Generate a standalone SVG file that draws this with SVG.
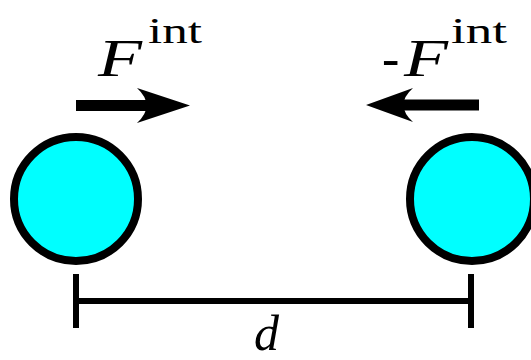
<svg xmlns="http://www.w3.org/2000/svg" width="531" height="360" viewBox="0 0 531 360">
<style>
.ball{fill:#00ffff;stroke:#000;stroke-width:8}
.ln{stroke:#000;stroke-width:6;fill:none}
.ar{fill:#000;stroke:none}
.mi{font-family:"Liberation Serif","Times New Roman",serif;font-style:italic;fill:#000}
.rm{font-family:"Liberation Serif","Times New Roman",serif;fill:#000}
</style>
<rect width="531" height="360" fill="#fff"/>
<g id="particle-left">
<circle class="ball" cx="76" cy="199" r="62"/>
</g>
<g id="particle-right">
<circle class="ball" cx="472" cy="199" r="62"/>
</g>
<g id="force-left">
<rect class="ar" x="76" y="100" width="76" height="11"/>
<path class="ar" d="M190,105.5 L137,88 Q156,105.5 137,123 Z"/>
<text class="mi" x="98" y="76" font-size="52" textLength="44" lengthAdjust="spacingAndGlyphs">F</text>
<text class="rm" x="148" y="43" font-size="36" textLength="54" lengthAdjust="spacingAndGlyphs">int</text>
</g>
<g id="force-right">
<rect class="ar" x="396" y="99.5" width="83" height="11"/>
<path class="ar" d="M366,105 L413,88 Q394,105 413,122 Z"/>
<text class="rm" x="382" y="76" font-size="52">-</text>
<text class="mi" x="404" y="76" font-size="52" textLength="44" lengthAdjust="spacingAndGlyphs">F</text>
<text class="rm" x="451" y="43" font-size="36" textLength="56" lengthAdjust="spacingAndGlyphs">int</text>
</g>
<g id="connectors">
<line class="ln" x1="76" y1="301" x2="471" y2="301"/>
<line class="ln" x1="76" y1="274" x2="76" y2="328"/>
<line class="ln" x1="471" y1="274" x2="471" y2="328"/>
<text class="mi" x="254" y="350" font-size="50">d</text>
</g>
</svg>
